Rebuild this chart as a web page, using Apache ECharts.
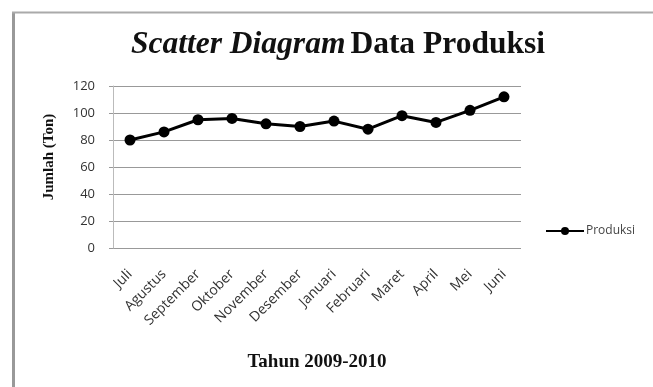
<!DOCTYPE html>
<html>
<head>
<meta charset="utf-8">
<script src="https://cdn.jsdelivr.net/npm/echarts@6/dist/echarts.min.js"></script>
<style>
  html, body { margin: 0; padding: 0; background: #fff; }
  #chart { width: 653px; height: 387px; }
</style>
</head>
<body>
<div id="chart"></div>
<script>
  // data
  const months = ['Juli', 'Agustus', 'September', 'Oktober', 'November', 'Desember',
    'Januari', 'Februari', 'Maret', 'April', 'Mei', 'Juni'];
  const produksi = [80, 86, 95, 96, 92, 90, 94, 88, 98, 93, 102, 112];
  const yTicks = [0, 20, 40, 60, 80, 100, 120];

  const chart = echarts.init(document.getElementById('chart'));

  const serif = '"Liberation Serif", "DejaVu Serif", serif';
  const sans = '"Open Sans", "Liberation Sans", sans-serif';

  chart.setOption({
    animation: false,
    backgroundColor: '#fff',
    title: {
      text: '{i|Scatter Diagram} {b|Data Produksi}',
      left: 126,
      top: 24,
      textStyle: {
        rich: {
          i: { fontFamily: serif, fontSize: 31.5, fontWeight: 'bold', fontStyle: 'italic', color: '#111' },
          b: { fontFamily: serif, fontSize: 31.5, fontWeight: 'bold', color: '#111' }
        }
      }
    },
    graphic: [
      { type: 'line', shape: { x1: 13.5, y1: 12, x2: 13.5, y2: 387 }, style: { stroke: '#999', lineWidth: 3 } },
      { type: 'line', shape: { x1: 12, y1: 12.5, x2: 653, y2: 12.5 }, style: { stroke: '#aaa', lineWidth: 2 } }
    ],
    legend: {
      data: ['Produksi'],
      left: 540,
      top: 220,
      itemWidth: 38,
      itemHeight: 10,
      itemGap: 2,
      textStyle: { fontFamily: sans, fontSize: 12, color: '#444', padding: [0, 0, 0, -3] }
    },
    grid: { left: 113, right: 132, top: 86, bottom: 139 },
    xAxis: {
      type: 'category',
      data: months,
      name: 'Tahun 2009-2010',
      nameLocation: 'middle',
      nameGap: 105,
      nameTextStyle: { fontFamily: serif, fontSize: 19, fontWeight: 'bold', color: '#111' },
      axisLine: { show: false },
      axisTick: { show: false },
      axisLabel: {
        rotate: 45,
        margin: 24,
        interval: 0,
        fontFamily: sans,
        fontSize: 14,
        color: '#333'
      }
    },
    yAxis: {
      type: 'value',
      min: 0,
      max: 120,
      interval: 20,
      name: 'Jumlah (Ton)',
      nameLocation: 'middle',
      nameGap: 56,
      nameTextStyle: {
        fontFamily: serif, fontSize: 15, fontWeight: 'bold', color: '#111',
        padding: [0, 0, 0, 20]
      },
      axisLine: { show: true, lineStyle: { color: '#bbb', width: 1 } },
      axisTick: { show: true, length: 4, lineStyle: { color: '#999' } },
      axisLabel: {
        margin: 18,
        fontFamily: sans,
        fontSize: 13,
        color: '#333',
        formatter: (v) => (yTicks.includes(v) ? String(v) : '')
      },
      splitLine: { show: true, lineStyle: { color: '#999', width: 1 } }
    },
    series: [
      {
        name: 'Produksi',
        type: 'line',
        data: produksi,
        symbol: 'circle',
        symbolSize: 11,
        itemStyle: { color: '#000' },
        lineStyle: { color: '#000', width: 3 }
      }
    ]
  });
</script>
</body>
</html>
